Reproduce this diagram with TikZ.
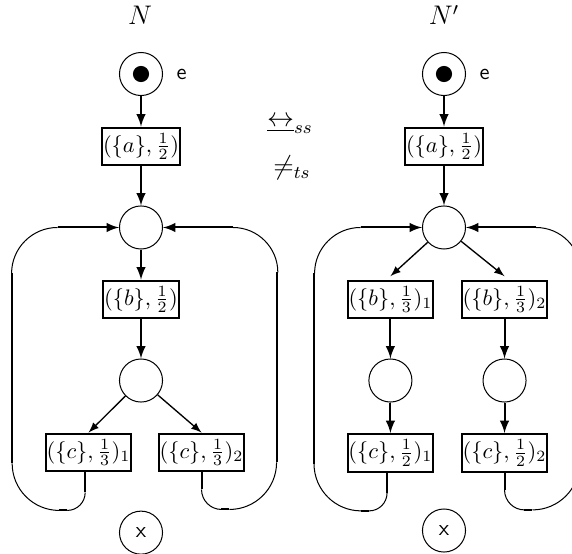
\documentclass[tikz,border=0pt]{standalone}
\usepackage{amsmath}
\usepackage{amssymb}
\usetikzlibrary{arrows,positioning}

\begin{document}
\begin{tikzpicture}[
    x=0.446pt, y=-0.446pt,
    place/.style={draw, circle, line width=0.45pt, minimum size=19.2pt, inner sep=0pt},
    trans/.style={draw, rectangle, line width=0.9pt, minimum width=34pt, minimum height=16.9pt, inner sep=0.3pt},
    netlabel/.style={inner sep=0pt, font=\large},
    arrow/.style={draw, -latex, line width=0.9pt},
    diagarrow/.style={draw, -latex, line width=0.6pt},
    thickline/.style={line width=0.9pt},
    thinline/.style={line width=0.45pt}
]
    \useasboundingbox (0,0) rectangle (572,553);

    % Net N
    \node[netlabel] (lN) at (140,15) {$N$};
    \node[place] (e0) at (141,74) {};
    \fill (e0.center) circle[radius=3.6pt];
    \node[right=2.5pt of e0] (e0lab) {\textsf{e}};
    \node[trans, below=13.6pt of e0] (ta) {$(\{a\},\frac{1}{2})$};
    \node[place, below=17.4pt of ta] (p0) {};
    \node[trans, below=13.4pt of p0] (tb) {$(\{b\},\frac{1}{2})$};
    \node[place, below=17.4pt of tb] (p1) {};
    \node[trans, below=13.4pt of p1, xshift=-23.4pt] (tc1) {$(\{c\},\frac{1}{3})_1$};
    \node[trans, below=13.4pt of p1, xshift=27pt] (tc2) {$(\{c\},\frac{1}{3})_2$};
    \node[place, below=48.2pt of p1] (x0) {\textsf{x}};

    % Net N'
    \node[netlabel] (lNp) at (444,15) {$N'$};
    \node[place] (e1) at (444,74) {};
    \fill (e1.center) circle[radius=3.6pt];
    \node[right=2.5pt of e1] (e1lab) {\textsf{e}};
    \node[trans, below=13.6pt of e1] (tap) {$(\{a\},\frac{1}{2})$};
    \node[place, below=17.4pt of tap] (q0) {};
    \node[trans, below=13.4pt of q0, xshift=-23.9pt] (tb1) {$(\{b\},\frac{1}{3})_1$};
    \node[trans, below=13.4pt of q0, xshift=27pt] (tb2) {$(\{b\},\frac{1}{3})_2$};
    \node[place, below=17.4pt of tb1] (q1) {};
    \node[place, below=17.4pt of tb2] (q2) {};
    \node[trans, below=13.6pt of q1] (tc1p) {$(\{c\},\frac{1}{2})_1$};
    \node[trans, below=13.6pt of q2] (tc2p) {$(\{c\},\frac{1}{2})_2$};
    \node[place, below=115.5pt of q0] (x1) {\textsf{x}};

    % Relations
    \node[netlabel] (bis) at (290,125) {$\underline{\leftrightarrow}_{ss}$};
    \node[netlabel] (neq) at (292,168) {$\neq_{ts}$};

    % Connections N
    \path[arrow] (e0) -- (ta);
    \path[arrow] (ta) -- (p0);
    \path[arrow] (p0) -- (tb);
    \path[arrow] (tb) -- (p1);
    \path[diagarrow] (p1) -- (tc1.north);
    \path[diagarrow] (p1) -- (tc2.north);

    % Connections N'
    \path[arrow] (e1) -- (tap);
    \path[arrow] (tap) -- (q0);
    \path[diagarrow] (q0) -- ([yshift=1.5pt]tb1.north);
    \path[diagarrow] (q0) -- ([yshift=1.5pt]tb2.north);
    \path[arrow] (tb1) -- (q1);
    \path[arrow] (tb2) -- (q2);
    \path[arrow] (q1) -- (tc1p);
    \path[arrow] (q2) -- (tc2p);

    % Loops back in N
    \coordinate (lt) at ([xshift=-27.4pt]p0.west);
    \path[arrow] (lt) -- (p0.west);
    \draw[thinline] (lt) arc[start angle=90, end angle=180, radius=20.5pt] coordinate (lu);
    \draw[thickline] ([xshift=-1.5pt]tc1.south) -- ++(0,20) coordinate (l1);
    \draw[thinline] (l1) arc[start angle=0, end angle=-90, radius=8pt] coordinate (l2);
    \draw[thickline] (l2) -- ++(-8,0) coordinate (l3);
    \draw[thinline] (l3) arc[start angle=-90, end angle=-180, radius=21pt] coordinate (l4);
    \draw[thickline] (l4) -- (l4 |- lu);

    \coordinate (rt) at ([xshift=31.2pt]p0.east);
    \path[arrow] (rt) -- (p0.east);
    \draw[thinline] (rt) arc[start angle=90, end angle=0, radius=20pt] coordinate (ru);
    \draw[thickline] (tc2.south) -- ++(0,17) coordinate (r1);
    \draw[thinline] (r1) arc[start angle=180, end angle=270, radius=8.9pt] coordinate (r2);
    \draw[thickline] (r2) -- ++(8,0) coordinate (r3);
    \draw[thinline] (r3) arc[start angle=-90, end angle=0, radius=21pt] coordinate (r4);
    \draw[thickline] (r4) -- (r4 |- ru);

    % Loops back in N'
    \coordinate (mt) at ([xshift=-27.4pt]q0.west);
    \path[arrow] (mt) -- (q0.west);
    \draw[thinline] (mt) arc[start angle=90, end angle=180, radius=20.5pt] coordinate (mu);
    \draw[thickline] ([xshift=-1.5pt]tc1p.south) -- ++(0,20) coordinate (m1);
    \draw[thinline] (m1) arc[start angle=0, end angle=-90, radius=8pt] coordinate (m2);
    \draw[thickline] (m2) -- ++(-8,0) coordinate (m3);
    \draw[thinline] (m3) arc[start angle=-90, end angle=-180, radius=21pt] coordinate (m4);
    \draw[thickline] (m4) -- (m4 |- mu);

    \coordinate (nt) at ([xshift=31.2pt]q0.east);
    \path[arrow] (nt) -- (q0.east);
    \draw[thinline] (nt) arc[start angle=90, end angle=0, radius=20pt] coordinate (nu);
    \draw[thickline] (tc2p.south) -- ++(0,17) coordinate (n1);
    \draw[thinline] (n1) arc[start angle=180, end angle=270, radius=8.9pt] coordinate (n2);
    \draw[thickline] (n2) -- ++(8,0) coordinate (n3);
    \draw[thinline] (n3) arc[start angle=-90, end angle=0, radius=21pt] coordinate (n4);
    \draw[thickline] (n4) -- (n4 |- nu);

\end{tikzpicture}
\end{document}
